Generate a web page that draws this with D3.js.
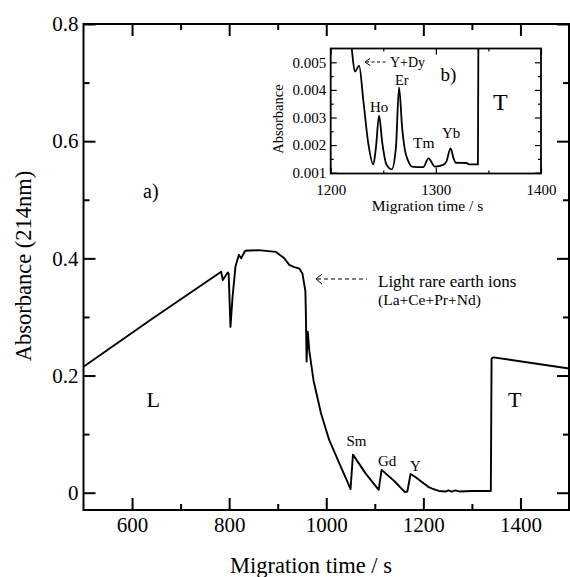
<!DOCTYPE html>
<html>
<head>
<meta charset="utf-8">
<script src="https://cdn.jsdelivr.net/npm/d3@7"></script>
<style>
  body { margin: 0; background: #fff; }
  svg { display: block; }
  text { font-family: "Liberation Serif", "Times New Roman", serif; fill: #000; }
</style>
</head>
<body>
<svg id="chart" width="570" height="577"></svg>
<script>
// main electropherogram
const mainTime = [500, 640, 783.6, 787, 797, 799, 802.7, 807, 813, 820, 824.6, 833, 860, 896.5,
  913.6, 924, 934, 944, 951, 957, 958, 959.5, 962, 965, 973.7, 989, 1006, 1026.5, 1043.5, 1050,
  1055, 1081, 1108, 1114, 1140, 1162, 1167, 1173.7, 1185, 1197.6, 1210, 1218, 1232, 1245, 1252,
  1258, 1266, 1275, 1300, 1339, 1340.5, 1344, 1500];
const mainAbs = [0.215, 0.296, 0.377, 0.363, 0.376, 0.374, 0.283, 0.334, 0.386, 0.406, 0.400, 0.413, 0.414, 0.411,
  0.400, 0.389, 0.385, 0.383, 0.374, 0.344, 0.307, 0.224, 0.275, 0.243, 0.192, 0.136, 0.090, 0.051, 0.019, 0.006,
  0.065, 0.033, 0.005, 0.039, 0.020, 0.001, 0.002, 0.032, 0.026, 0.018, 0.010, 0.007, 0.003, 0.002, 0.004,
  0.002, 0.004, 0.002, 0.003, 0.003, 0.229, 0.231, 0.212];

// inset b), heavy rare earths
const insetTime = [1218, 1220, 1223, 1227, 1231, 1235.7, 1240.5, 1243, 1246, 1249, 1253, 1258, 1262, 1265,
  1268, 1270.6, 1274, 1277, 1288, 1293, 1299, 1307, 1310, 1314, 1317, 1319, 1329, 1332, 1340, 1340.5];
const insetAbs = [0.0062, 0.0055, 0.00466, 0.00488, 0.00363, 0.00207, 0.0013, 0.0019, 0.00307, 0.0021, 0.0013, 0.00112, 0.0019, 0.00409,
  0.0026, 0.00182, 0.0014, 0.00122, 0.0012, 0.00152, 0.00122, 0.00128, 0.0014, 0.00188, 0.0015, 0.00136, 0.00135, 0.0013, 0.0013, 0.0062];

const mainXTicks = [600, 800, 1000, 1200, 1400];
const mainXLabels = ['600', '800', '1000', '1200', '1400'];
const mainXMinor = [700, 900, 1100, 1300];
const mainYTicks = [0, 0.2, 0.4, 0.6, 0.8];
const mainYLabels = ['0', '0.2', '0.4', '0.6', '0.8'];
const mainYMinor = [0.1, 0.3, 0.5, 0.7];

const insetXTicks = [1200, 1300, 1400];
const insetXLabels = ['1200', '1300', '1400'];
const insetXMinor = [1250, 1350];
const insetYTicks = [0.001, 0.002, 0.003, 0.004, 0.005];
const insetYLabels = ['0.001', '0.002', '0.003', '0.004', '0.005'];
const insetYMinor = [0.0015, 0.0025, 0.0035, 0.0045];

const svg = d3.select('#chart');

const x = d3.scaleLinear().domain([500, 1500]).range([83.5, 569]);
const y = d3.scaleLinear().domain([-0.0295, 0.8]).range([510, 24]);

const xi = d3.scaleLinear().domain([1200, 1400]).range([330.7, 541]);
const yi = d3.scaleLinear().domain([0.00097, 0.0055]).range([173.5, 48.5]);

// box with inward ticks on all four sides
function drawFrame(g, xs, ys, o) {
	const [xl, xr] = xs.range();
	const [yb, yt] = ys.range();

	const bottom = d3.axisBottom(xs).tickValues(o.xTicks).tickSizeInner(-o.major).tickSizeOuter(0)
		.tickPadding(o.xPad).tickFormat((d, i) => o.xLabels[i]);
	const bottomMinor = d3.axisBottom(xs).tickValues(o.xMinor).tickSizeInner(-o.minor).tickSizeOuter(0).tickFormat('');
	const top = d3.axisTop(xs).tickValues(o.xTicks).tickSizeInner(-o.major).tickSizeOuter(0).tickFormat('');
	const topMinor = d3.axisTop(xs).tickValues(o.xMinor).tickSizeInner(-o.minor).tickSizeOuter(0).tickFormat('');
	const left = d3.axisLeft(ys).tickValues(o.yTicks).tickSizeInner(-o.major).tickSizeOuter(0)
		.tickPadding(o.yPad).tickFormat((d, i) => o.yLabels[i]);
	const leftMinor = d3.axisLeft(ys).tickValues(o.yMinor).tickSizeInner(-o.minor).tickSizeOuter(0).tickFormat('');
	const right = d3.axisRight(ys).tickValues(o.yTicks).tickSizeInner(-o.major).tickSizeOuter(0).tickFormat('');
	const rightMinor = d3.axisRight(ys).tickValues(o.yMinor).tickSizeInner(-o.minor).tickSizeOuter(0).tickFormat('');

	const axes = [
		[bottom, `translate(0,${yb})`], [bottomMinor, `translate(0,${yb})`],
		[top, `translate(0,${yt})`], [topMinor, `translate(0,${yt})`],
		[left, `translate(${xl},0)`], [leftMinor, `translate(${xl},0)`],
		[right, `translate(${xr},0)`], [rightMinor, `translate(${xr},0)`]
	];
	axes.forEach(([ax, tr]) => {
		const a = g.append('g').attr('transform', tr).call(ax);
		a.select('.domain').remove();
		a.selectAll('line').attr('stroke', '#000').attr('stroke-width', o.tickWidth);
		a.selectAll('text').attr('font-family', '"Liberation Serif", serif').attr('font-size', o.fontSize).attr('fill', '#000');
	});

	g.append('rect')
		.attr('x', xl).attr('y', yt)
		.attr('width', xr - xl).attr('height', yb - yt)
		.attr('fill', 'none').attr('stroke', '#000').attr('stroke-width', o.boxWidth);
}

// main panel
const main = svg.append('g');
const mainLine = d3.line().x((d, i) => x(mainTime[i])).y(d => y(d));
main.append('path')
	.datum(mainAbs)
	.attr('d', mainLine)
	.attr('fill', 'none').attr('stroke', '#000').attr('stroke-width', 1.9)
	.attr('stroke-linejoin', 'round');

drawFrame(main, x, y, {
	xTicks: mainXTicks, xLabels: mainXLabels, xMinor: mainXMinor,
	yTicks: mainYTicks, yLabels: mainYLabels, yMinor: mainYMinor,
	major: 12, minor: 6, xPad: 7, yPad: 5, fontSize: 21, tickWidth: 2, boxWidth: 2
});

main.append('text').attr('x', 311).attr('y', 573).attr('text-anchor', 'middle')
	.attr('font-size', 22.5).text('Migration time / s');
main.append('text').attr('transform', 'translate(31,266) rotate(-90)').attr('text-anchor', 'middle')
	.attr('font-size', 22.5).text('Absorbance (214nm)');

main.append('text').attr('x', 143).attr('y', 198).attr('font-size', 20).text('a)');
main.append('text').attr('x', 146.5).attr('y', 407).attr('font-size', 22).text('L');
main.append('text').attr('x', 508).attr('y', 407).attr('font-size', 22).text('T');

// light rare earth arrow
main.append('line').attr('x1', 317).attr('x2', 367).attr('y1', 279).attr('y2', 279)
	.attr('stroke', '#000').attr('stroke-width', 1).attr('stroke-dasharray', '4,3');
main.append('path').attr('d', 'M322,274 L316,279 L322,284').attr('fill', 'none').attr('stroke', '#000').attr('stroke-width', 1);
main.append('text').attr('x', 378).attr('y', 286.5).attr('font-size', 17).text('Light rare earth ions');
main.append('text').attr('x', 378).attr('y', 304.5).attr('font-size', 15.5).text('(La+Ce+Pr+Nd)');

main.append('text').attr('x', 346.5).attr('y', 446).attr('font-size', 15).text('Sm');
main.append('text').attr('x', 378).attr('y', 466).attr('font-size', 15).text('Gd');
main.append('text').attr('x', 410).attr('y', 471).attr('font-size', 15).text('Y');

// inset b)
const inset = svg.append('g');
inset.append('rect').attr('x', 330.7).attr('y', 48.5).attr('width', 541 - 330.7).attr('height', 173.5 - 48.5).attr('fill', '#fff');
inset.append('clipPath').attr('id', 'insetClip').append('rect')
	.attr('x', 330.7).attr('y', 48.5).attr('width', 541 - 330.7).attr('height', 173.5 - 48.5);
const insetLine = d3.line().x((d, i) => xi(insetTime[i])).y(d => yi(d)).curve(d3.curveMonotoneX);
inset.append('path')
	.datum(insetAbs)
	.attr('clip-path', 'url(#insetClip)')
	.attr('d', insetLine)
	.attr('fill', 'none').attr('stroke', '#000').attr('stroke-width', 1.8)
	.attr('stroke-linejoin', 'round');

drawFrame(inset, xi, yi, {
	xTicks: insetXTicks, xLabels: insetXLabels, xMinor: insetXMinor,
	yTicks: insetYTicks, yLabels: insetYLabels, yMinor: insetYMinor,
	major: 6, minor: 3, xPad: 11, yPad: 4.5, fontSize: 15, tickWidth: 1.2, boxWidth: 1.8
});

inset.append('text').attr('x', 427.5).attr('y', 211).attr('text-anchor', 'middle')
	.attr('font-size', 15.5).text('Migration time / s');
inset.append('text').attr('transform', 'translate(283,119) rotate(-90)').attr('text-anchor', 'middle')
	.attr('font-size', 14.5).text('Absorbance');

inset.append('line').attr('x1', 366).attr('x2', 388).attr('y1', 62).attr('y2', 62)
	.attr('stroke', '#000').attr('stroke-width', 1).attr('stroke-dasharray', '3,2.5');
inset.append('path').attr('d', 'M370,58.5 L365,62 L370,65.5').attr('fill', 'none').attr('stroke', '#000').attr('stroke-width', 1);
inset.append('text').attr('x', 390).attr('y', 67).attr('font-size', 14).text('Y+Dy');
inset.append('text').attr('x', 440.5).attr('y', 81).attr('font-size', 19).text('b)');
inset.append('text').attr('x', 493).attr('y', 110).attr('font-size', 24).text('T');
inset.append('text').attr('x', 370).attr('y', 112).attr('font-size', 15).text('Ho');
inset.append('text').attr('x', 395).attr('y', 85).attr('font-size', 14.5).text('Er');
inset.append('text').attr('x', 413).attr('y', 148).attr('font-size', 15.5).text('Tm');
inset.append('text').attr('x', 442).attr('y', 137.5).attr('font-size', 15).text('Yb');
</script>
</body>
</html>
